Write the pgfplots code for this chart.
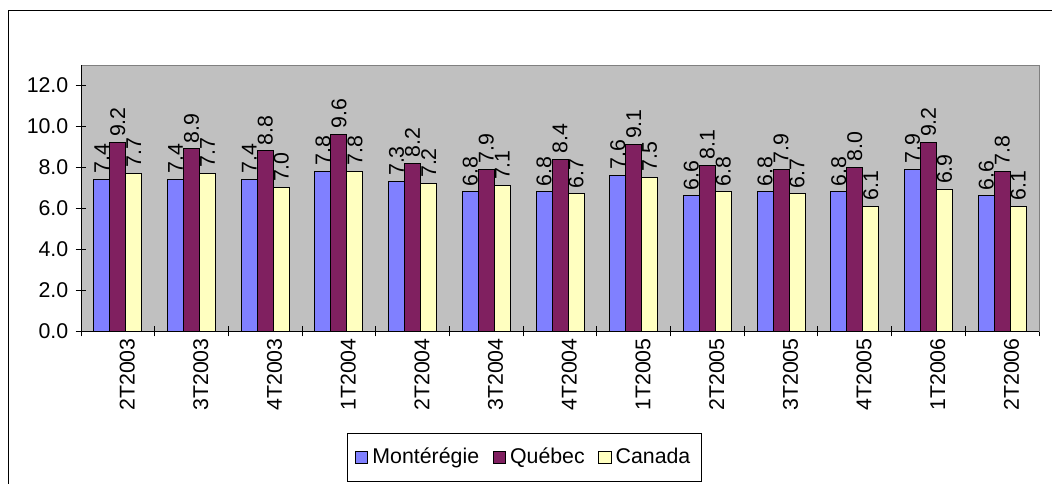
\documentclass[border=0pt]{standalone}
\usepackage{fontspec}
\setmainfont{Liberation Sans}
\usepackage{pgfplots}
\pgfplotsset{compat=1.18}
\definecolor{cblue}{HTML}{8080FF}
\definecolor{cmaroon}{HTML}{802060}
\definecolor{cyellow}{HTML}{FFFFC0}
\definecolor{cgray}{HTML}{C0C0C0}
\definecolor{cborder}{HTML}{808080}
\begin{document}
\fontsize{16pt}{19pt}\selectfont
\begin{tikzpicture}
\draw[black, line width=0.75pt] (6.5pt,-20pt) rectangle (820pt,354pt);
\begin{axis}[
  at={(60.75pt,114pt)}, anchor=south west,
  scale only axis, width=718.5pt, height=199.5pt,
  xmin=-0.5, xmax=12.5, ymin=0, ymax=13,
  ybar=0pt, bar width=12pt,
  clip=false,
  axis background/.style={fill=cgray},
  axis line style={draw=cborder, line width=0.75pt},
  /pgf/number format/assume math mode=true,
  tick style={black, line width=0.75pt},
  tick align=center,
  xtick pos=bottom, ytick pos=left,
  major tick length=8pt,
  xtick={-0.5,0.5,1.5,2.5,3.5,4.5,5.5,6.5,7.5,8.5,9.5,10.5,11.5,12.5},
  xticklabels={},
  extra x ticks={0,1,2,3,4,5,6,7,8,9,10,11,12},
  extra x tick labels={2T2003,3T2003,4T2003,1T2004,2T2004,3T2004,4T2004,1T2005,2T2005,3T2005,4T2005,1T2006,2T2006},
  extra x tick style={major tick length=0pt, xticklabel style={rotate=90, anchor=east, yshift=-7pt}},
  ytick={0,2,4,6,8,10,12},
  yticklabel style={/pgf/number format/.cd, fixed, fixed zerofill, precision=1, assume math mode=true},
  nodes near coords={\pgfmathprintnumber[fixed,fixed zerofill,precision=1,assume math mode=true]{\pgfplotspointmeta}},
  every node near coord/.append style={rotate=90, anchor=west, black, inner sep=4pt},
  legend columns=3,
  legend style={at={(0.4624,-0.4756)}, anchor=center, draw=black, line width=0.5pt, fill=white,
    inner xsep=6pt, inner ysep=9pt,
    /tikz/every odd column/.append style={column sep=1pt},
    /tikz/every even column/.append style={column sep=8pt}},
  sqlegend/.style={legend image code/.code={\draw[##1, draw=black, line width=0.75pt] (0pt,-4.7pt) rectangle (9.4pt,4.7pt);}},
]
\addplot[fill=cblue, draw=black, line width=0.75pt, sqlegend] coordinates {
(0,7.4) (1,7.4) (2,7.4) (3,7.8) (4,7.3) (5,6.8) (6,6.8) (7,7.6) (8,6.6) (9,6.8) (10,6.8) (11,7.9) (12,6.6)};
\addplot[fill=cmaroon, draw=black, line width=0.75pt, sqlegend] coordinates {
(0,9.2) (1,8.9) (2,8.8) (3,9.6) (4,8.2) (5,7.9) (6,8.4) (7,9.1) (8,8.1) (9,7.9) (10,8.0) (11,9.2) (12,7.8)};
\addplot[fill=cyellow, draw=black, line width=0.75pt, sqlegend] coordinates {
(0,7.7) (1,7.7) (2,7.0) (3,7.8) (4,7.2) (5,7.1) (6,6.7) (7,7.5) (8,6.8) (9,6.7) (10,6.1) (11,6.9) (12,6.1)};
\legend{Montérégie,Québec,Canada}
\draw[black, line width=0.75pt] (rel axis cs:0,1) -- (rel axis cs:0,0) -- (rel axis cs:1,0);
\end{axis}
\pgfresetboundingbox
\path[use as bounding box] (0pt,0pt) rectangle (789pt,362.25pt);
\end{tikzpicture}
\end{document}
